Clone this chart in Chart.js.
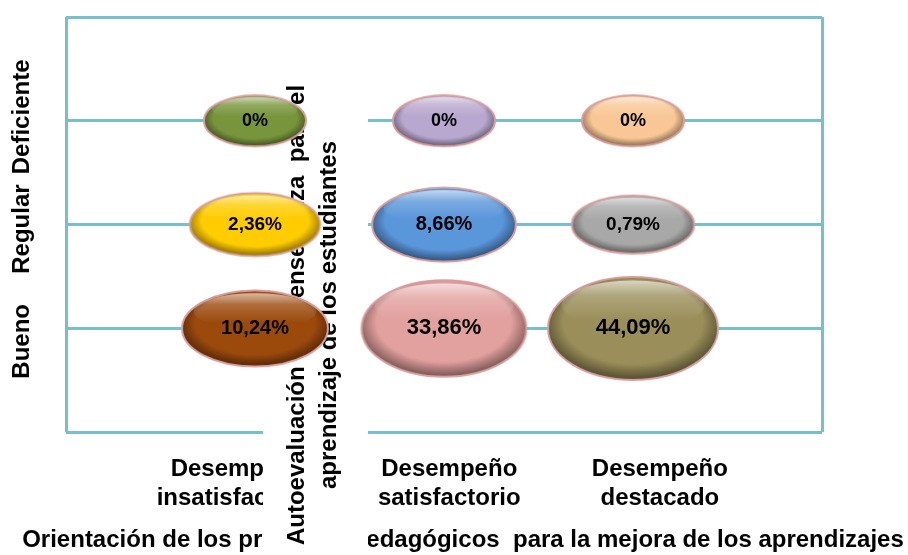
<!DOCTYPE html>
<html>
<head>
<meta charset="utf-8">
<script src="https://cdn.jsdelivr.net/npm/chart.js@4.4.0/dist/chart.umd.min.js"></script>
<style>
html, body { margin: 0; padding: 0; background: #fff; }
</style>
</head>
<body>
<canvas id="chart" width="908" height="555"></canvas>
<script>
// ============= Data =============

const xLabels = [["Desempeño", "insatisfactorio"], ["Desempeño", "satisfactorio"], ["Desempeño", "destacado"]];
const yLabels = ["Bueno", "Regular", "Deficiente"];

const bueno = [10.24, 33.86, 44.09];
const regular = [2.36, 8.66, 0.79];
const deficiente = [0, 0, 0];

const xTitle = "Orientación de los procesos pedagógicos  para la mejora de los aprendizajes";
const yTitle = ["Autoevaluación de la enseñanza  para el", "aprendizaje de los estudiantes"];

// ============= Style =============

const FONT = "'Liberation Sans', Arial, sans-serif";
const GRID = "#77BFD0";

const rowColors = [
	["#9C4A0C", "#E2A09E", "#9A8F5A"],
	["#FFCC00", "#5A96DA", "#A8A8A8"],
	["#78953C", "#B8A7CE", "#F9C795"]
];

const rows = [bueno, regular, deficiente];
const maxValue = Math.max(...bueno, ...regular, ...deficiente);

// Bubble area grows with the value, with a minimum size like the original
const bubbleWidth = v => 102 + 68 * Math.pow(v / maxValue, 0.3);
const bubbleHeight = v => 51 + 52 * Math.sqrt(v / maxValue);

// r stays tiny: the drawn ellipse is the point style image, so it must not push the layout
const points = rows.flatMap((row, r) => row.map((v, i) => ({ x: i + 1, y: r + 1, r: 1, v })));
const colors = rowColors.flat();

function formatPercent(v)
{
	return v === 0 ? "0%" : v.toFixed(2).replace(".", ",") + "%";
}

function makeBubble(color, w, h)
{
	const pad = 3;
	const c = document.createElement("canvas");
	c.width = Math.ceil(w + pad * 2);
	c.height = Math.ceil(h + pad * 2);

	const g = c.getContext("2d");
	const cx = c.width / 2, cy = c.height / 2, rx = w / 2, ry = h / 2;

	g.beginPath();
	g.ellipse(cx, cy, rx, ry, 0, 0, Math.PI * 2);
	g.fillStyle = color;
	g.fill();

	g.save();
	g.clip();
	g.translate(cx, cy);
	g.scale(rx, ry);

	// darker rim, heavier towards the bottom
	const shade = g.createRadialGradient(0, -0.25, 0.1, 0, -0.08, 1.1);
	shade.addColorStop(0, "rgba(0,0,0,0)");
	shade.addColorStop(0.72, "rgba(0,0,0,0)");
	shade.addColorStop(1, "rgba(0,0,0,0.5)");
	g.fillStyle = shade;
	g.fillRect(-1.3, -1.3, 2.6, 2.6);

	// gloss on the upper half
	const gloss = g.createLinearGradient(0, -0.95, 0, -0.15);
	gloss.addColorStop(0, "rgba(255,255,255,0.65)");
	gloss.addColorStop(0.4, "rgba(255,255,255,0.2)");
	gloss.addColorStop(1, "rgba(255,255,255,0)");
	g.beginPath();
	g.ellipse(0, -0.45, 0.84, 0.48, 0, 0, Math.PI * 2);
	g.fillStyle = gloss;
	g.fill();
	g.restore();

	g.beginPath();
	g.ellipse(cx, cy, rx, ry, 0, 0, Math.PI * 2);
	g.lineWidth = 2;
	g.strokeStyle = "#D89E9E";
	g.stroke();

	return c;
}

const bubbles = points.map((p, i) => makeBubble(colors[i], bubbleWidth(p.v), bubbleHeight(p.v)));

// ============= Plugins =============

// The misplaced axis caption of the original sits in a white box over the chart
const captionBox = {
	id: "captionBox",
	beforeDatasetsDraw(chart)
	{
		const ctx = chart.ctx;
		const labelScale = chart.scales.yl;

		ctx.save();
		ctx.fillStyle = "#000";
		ctx.font = `bold 24px ${FONT}`;
		ctx.textAlign = "center";
		ctx.textBaseline = "middle";

		yLabels.forEach((label, i) =>
		{
			ctx.save();
			ctx.translate(22, labelScale.getPixelForValue(i + 1));
			ctx.rotate(-Math.PI / 2);
			ctx.fillText(label, 0, 0);
			ctx.restore();
		});

		ctx.fillStyle = "#fff";
		ctx.fillRect(263, 70, 105, chart.height - 70);

		ctx.fillStyle = "#000";
		yTitle.forEach((line, i) =>
		{
			ctx.save();
			ctx.translate(297 + i * 32, 315);
			ctx.rotate(-Math.PI / 2);
			ctx.fillText(line, 0, 0);
			ctx.restore();
		});

		ctx.restore();
	}
};

const valueLabels = {
	id: "valueLabels",
	afterDatasetsDraw(chart)
	{
		const ctx = chart.ctx;
		const meta = chart.getDatasetMeta(0);

		ctx.save();
		ctx.fillStyle = "#000";
		ctx.textAlign = "center";
		ctx.textBaseline = "middle";

		meta.data.forEach((el, i) =>
		{
			const p = points[i];
			const size = Math.round(14 + bubbleHeight(p.v) * 0.08);
			ctx.font = `bold ${size}px ${FONT}`;
			ctx.fillText(formatPercent(p.v), el.x, el.y);
		});

		ctx.restore();
	}
};

// ============= Chart =============

Chart.defaults.font.family = FONT;

new Chart(document.getElementById("chart"), {
	type: "bubble",
	data: {
		datasets: [{
			data: points,
			backgroundColor: colors,
			borderWidth: 0,
			clip: false,
			pointStyle: ctx => (ctx.type === "data" ? bubbles[ctx.dataIndex] : "circle")
		}]
	},
	options: {
		responsive: false,
		animation: false,
		events: [],
		layout: { padding: { left: 18, top: 17, right: 0, bottom: 0 } },
		plugins: {
			legend: { display: false },
			tooltip: { enabled: false },
			title: {
				display: true,
				position: "bottom",
				text: xTitle,
				color: "#000",
				font: { size: 24, weight: "bold" },
				padding: { top: 19, bottom: 0 }
			}
		},
		scales: {
			x: {
				type: "linear",
				min: 0,
				max: 4,
				ticks: { display: false, stepSize: 1 },
				grid: {
					drawTicks: false,
					lineWidth: 3,
					color: ctx => (ctx.tick && (ctx.tick.value === 0 || ctx.tick.value === 4) ? GRID : "rgba(0,0,0,0)")
				},
				border: { display: false },
				afterFit: s => { s.height = 0; }
			},
			xl: {
				type: "linear",
				position: "bottom",
				min: 0.18,
				max: 3.77,
				grid: { display: false },
				border: { display: false },
				ticks: {
					padding: 15,
					color: "#000",
					font: { size: 24, weight: "bold" },
					maxRotation: 0,
					autoSkip: false,
					callback: v => xLabels[v - 1] || ""
				},
				afterBuildTicks: s => { s.ticks = xLabels.map((_, i) => ({ value: i + 1 })); },
				afterFit: s => { s.height = 75; }
			},
			y: {
				type: "linear",
				min: 0,
				max: 4,
				ticks: { display: false, stepSize: 1 },
				grid: { drawTicks: false, lineWidth: 3, color: GRID },
				border: { display: false },
				afterFit: s => { s.width = 48; }
			},
			yl: {
				type: "linear",
				position: "left",
				min: 0.19,
				max: 3.89,
				grid: { display: false },
				border: { display: false },
				ticks: { display: false },
				afterFit: s => { s.width = 0; }
			},
			yr: {
				type: "linear",
				position: "right",
				grid: { display: false },
				border: { display: false },
				ticks: { display: false },
				afterFit: s => { s.width = 86; }
			}
		}
	},
	plugins: [captionBox, valueLabels]
});
</script>
</body>
</html>
